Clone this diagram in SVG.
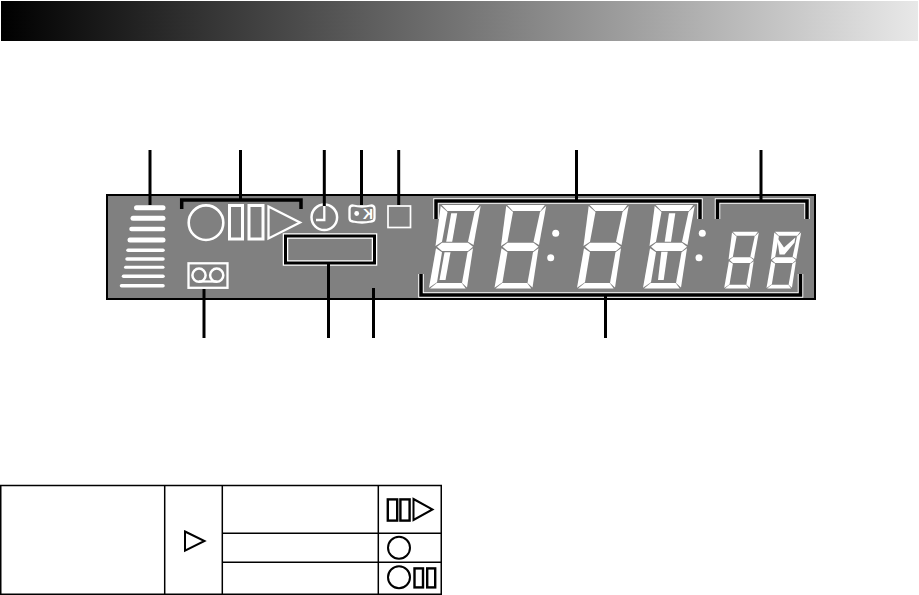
<svg xmlns="http://www.w3.org/2000/svg" xmlns:xlink="http://www.w3.org/1999/xlink" width="919" height="595" viewBox="0 0 919 595">
<style>
.w{fill:none;stroke:#fff;stroke-width:2.3}
.s{fill:#fff;stroke:none}
.k{fill:none;stroke:#000;stroke-width:3}
.h{fill:none;stroke:#fff;stroke-width:5.5}
.b{fill:none;stroke:#000;stroke-width:3.5}
.t{fill:none;stroke:#000;stroke-width:1.5}
.i{fill:none;stroke:#000;stroke-width:2}
.r{fill:none;stroke:#000;stroke-width:2.4}
.bar{stroke:#fff;stroke-linecap:round;fill:none}
</style>
<defs>
<linearGradient id="hd" x1="0" x2="1" y1="0" y2="0"><stop offset="0" stop-color="#000"/><stop offset="1" stop-color="#e8e8e8"/></linearGradient>
<g id="digit">
<polygon points="441.7,205 479.3,205 475,211 447.3,211"/>
<polygon points="480.7,206 474.5,212 468,241.7 473.5,245"/>
<polygon points="440.7,206 447.5,212 442,241.7 435.5,246"/>
<polygon points="437,246.7 442,242.7 468,242.7 473,246.7 468,251 442,251"/>
<polygon points="436,248.3 442,252.3 437,282.3 429,287.7"/>
<polygon points="473,248.3 467.5,252.3 462,283 467,287.5"/>
<polygon points="430,288.5 436.7,283 461.7,283 465.7,288.5"/>
</g>
</defs>
<rect width="919" height="595" fill="#fff"/>
<rect id="header" x="1" y="1" width="917" height="40" fill="url(#hd)"/>
<rect id="panel" x="107" y="195" width="708" height="104" fill="#808080" stroke="#000" stroke-width="2"/>

<g id="level-bars">
<line class="bar" x1="136.5" y1="207.7" x2="163" y2="207.7" stroke-width="5"/>
<line class="bar" x1="133" y1="218.3" x2="163" y2="218.3" stroke-width="5"/>
<line class="bar" x1="131.5" y1="229" x2="163" y2="229" stroke-width="4.5"/>
<line class="bar" x1="130" y1="240" x2="163" y2="240" stroke-width="5"/>
<line class="bar" x1="128" y1="250.3" x2="163" y2="250.3" stroke-width="3.5"/>
<line class="bar" x1="127" y1="259" x2="163" y2="259" stroke-width="3.5"/>
<line class="bar" x1="125.5" y1="267.3" x2="163" y2="267.3" stroke-width="3"/>
<line class="bar" x1="123.5" y1="276.3" x2="163" y2="276.3" stroke-width="3.5"/>
<line class="bar" x1="121.5" y1="285.7" x2="163" y2="285.7" stroke-width="3.5"/>
</g>
<g id="transport">
<circle class="w" cx="206" cy="222.7" r="17.3" style="stroke-width:2.6"/>
<rect class="w" x="229.5" y="205.5" width="13" height="33.5" style="stroke-width:3"/>
<rect class="w" x="249" y="205.5" width="14" height="33.5" style="stroke-width:3"/>
<polygon class="w" points="268.5,206.5 300,222.5 268.5,238.5"/>
</g>
<g id="clock">
<circle class="w" cx="324.3" cy="217.3" r="12.8" style="stroke-width:2.5"/>
<polyline class="w" points="324.3,206 324.3,220 316,220"/>
</g>
<g id="k-icon">
<path class="w" d="M353,205.5 Q362,207.5 371,205.5 Q374.5,205.5 374.5,209 L374.5,218 Q374.5,221.5 371,221.5 Q362,223.5 353,221.5 Q349.5,221.5 349.5,218 L349.5,209 Q349.5,205.5 353,205.5 Z"/>
<circle class="s" cx="356.7" cy="213.5" r="2.4"/>
<text transform="translate(373,219) scale(-1,1)" font-family="'Liberation Sans',sans-serif" font-weight="bold" font-size="14" fill="#fff">K</text>
</g>
<g id="square"><rect class="w" x="388" y="206" width="22.5" height="21.5" style="stroke-width:1.7"/></g>
<g id="tape">
<rect class="w" x="188.5" y="263.3" width="39" height="24.5"/>
<circle class="w" cx="199" cy="275.2" r="6.6" style="stroke-width:2.5"/>
<circle class="w" cx="216.7" cy="275.2" r="6.6" style="stroke-width:2.5"/>
<line class="w" x1="199" y1="281.5" x2="216.7" y2="281.5"/>
</g>
<g id="center-box">
<rect class="h" x="285.5" y="236" width="89" height="27"/>
<rect class="k" x="285.5" y="236" width="89" height="27"/>
</g>
<g id="display" class="s">
<use xlink:href="#digit" href="#digit"/>
<polygon points="451.2,213.3 457.2,213.3 452.2,241.7 446.2,241.7"/>
<polygon points="444.5,252.3 450.5,252.3 445.5,280 439.5,280"/>
<use xlink:href="#digit" href="#digit" transform="translate(65.5,0)"/>
<circle cx="555.7" cy="233.3" r="3.5"/>
<circle cx="550.7" cy="257.7" r="3.5"/>
<use xlink:href="#digit" href="#digit" transform="translate(148,0)"/>
<use xlink:href="#digit" href="#digit" transform="translate(214,0)"/>
<polygon points="669,213.3 675.3,213.3 671,241.7 664.7,241.7"/>
<polygon points="661.3,251.7 667.7,251.7 663.7,280 658,280"/>
<circle cx="702.3" cy="233.3" r="3.5"/>
<circle cx="699" cy="257.7" r="3.5"/>
<use xlink:href="#digit" href="#digit" transform="translate(732.7,231.7) scale(.67,.68) translate(-441.7,-205)"/>
<use xlink:href="#digit" href="#digit" transform="translate(775,231.7) scale(.67,.68) translate(-441.7,-205)"/>
<polygon points="777,237.5 784,247.5 795.3,237.5 794.5,242.5 784.5,254.5 779.5,254.5"/>
</g>
<g id="connectors">
<polyline class="h" points="436,219 436,201 700,201 700,219"/>
<polyline class="b" points="436,219 436,201 700,201 700,219"/>
<polyline class="h" points="717.5,219 717.5,201 807,201 807,219"/>
<polyline class="b" points="717.5,219 717.5,201 807,201 807,219"/>
<polyline class="h" points="421,274 421,295 800.5,295 800.5,274"/>
<polyline class="b" points="421,274 421,295 800.5,295 800.5,274"/>
<polyline class="b" points="181.7,209 181.7,200 301,200 301,209"/>
<line class="k" x1="150" y1="150" x2="150" y2="205"/>
<line class="k" x1="240.5" y1="150" x2="240.5" y2="200"/>
<line class="k" x1="324.3" y1="150" x2="324.3" y2="206"/>
<line class="k" x1="361.5" y1="150" x2="361.5" y2="205"/>
<line class="k" x1="398.7" y1="150" x2="398.7" y2="205"/>
<line class="k" x1="576.5" y1="150" x2="576.5" y2="200"/>
<line class="k" x1="761" y1="150" x2="761" y2="200"/>
<line class="k" x1="204" y1="289" x2="204" y2="338"/>
<line class="k" x1="328.5" y1="264" x2="328.5" y2="338"/>
<line class="k" x1="373.5" y1="288" x2="373.5" y2="338"/>
<line class="k" x1="605.5" y1="296" x2="605.5" y2="338"/>
</g>
<g id="table">
<rect class="t" x="0.75" y="485.5" width="440.5" height="108.75"/>
<line class="t" x1="164.7" y1="485.5" x2="164.7" y2="594"/>
<line class="t" x1="222.3" y1="485.5" x2="222.3" y2="594"/>
<line class="t" x1="378.3" y1="485.5" x2="378.3" y2="594"/>
<line class="t" x1="222.3" y1="533.3" x2="441" y2="533.3"/>
<line class="t" x1="222.3" y1="562.3" x2="441" y2="562.3"/>
<polygon class="i" points="185,531.5 204.5,541 185,550.7"/>
<rect class="r" x="387.8" y="499.4" width="9.4" height="21.2"/>
<rect class="r" x="400.4" y="499.4" width="9.2" height="21.2"/>
<polygon class="i" points="413.5,499 432.5,509.5 413.5,520"/>
<circle class="i" cx="399" cy="547.7" r="11"/>
<circle class="i" cx="399" cy="577.3" r="11"/>
<rect class="r" x="414.5" y="568.4" width="8.5" height="19"/>
<rect class="r" x="427.2" y="568.4" width="8" height="19"/>
</g>
</svg>
